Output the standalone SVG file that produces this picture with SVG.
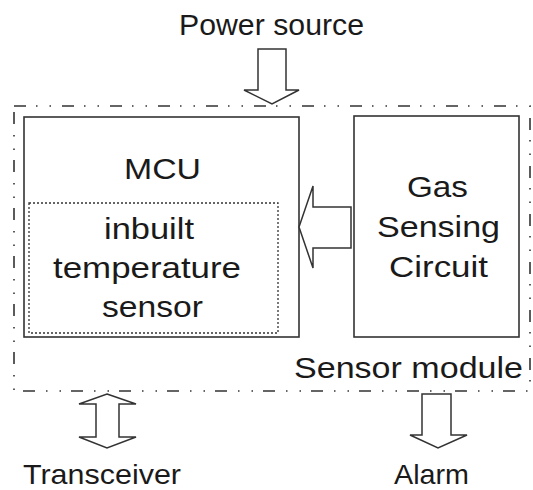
<svg xmlns="http://www.w3.org/2000/svg" width="533" height="490" viewBox="0 0 533 490">
<style>
.t{font-family:"Liberation Sans",Arial,sans-serif;font-size:29px;fill:#1a1a1a;text-anchor:middle}
.b{font-size:28px}
.box{fill:none;stroke:#333;stroke-width:1.6}
.arrow{fill:#fff;stroke:#333;stroke-width:1.5;stroke-linejoin:miter}
.module{fill:none;stroke:#333;stroke-width:1.6;stroke-dasharray:12 10 1.5 12 1.5 11}
.inner{fill:none;stroke:#333;stroke-width:1.3;stroke-dasharray:2 2}
</style>
<rect width="533" height="490" fill="#fff"/>
<g id="sensor-module">
<rect class="module" x="14" y="106" width="516" height="285"/>
<text class="t" x="408.5" y="378" textLength="229" lengthAdjust="spacingAndGlyphs">Sensor module</text>
</g>
<g id="mcu">
<rect class="box" x="24" y="117" width="275" height="220"/>
<text class="t" x="162.5" y="179" textLength="77" lengthAdjust="spacingAndGlyphs">MCU</text>
</g>
<g id="temperature-sensor">
<rect class="inner" x="29" y="203" width="249" height="130"/>
<text class="t" x="149" y="239" textLength="90" lengthAdjust="spacingAndGlyphs">inbuilt</text>
<text class="t" x="147" y="278" textLength="188" lengthAdjust="spacingAndGlyphs">temperature</text>
<text class="t" x="152.5" y="317" textLength="101" lengthAdjust="spacingAndGlyphs">sensor</text>
</g>
<g id="gas-sensing-circuit">
<rect class="box" x="354" y="116" width="165" height="221"/>
<text class="t" x="437.5" y="197" textLength="61" lengthAdjust="spacingAndGlyphs">Gas</text>
<text class="t" x="438.5" y="237" textLength="123" lengthAdjust="spacingAndGlyphs">Sensing</text>
<text class="t" x="438.5" y="277" textLength="99" lengthAdjust="spacingAndGlyphs">Circuit</text>
</g>
<g id="power-source">
<text class="t" x="271.5" y="35" textLength="185" lengthAdjust="spacingAndGlyphs">Power source</text>
</g>
<g id="transceiver">
<text class="t b" x="102" y="484" textLength="158" lengthAdjust="spacingAndGlyphs">Transceiver</text>
</g>
<g id="alarm">
<text class="t b" x="431.5" y="484" textLength="75" lengthAdjust="spacingAndGlyphs">Alarm</text>
</g>
<g id="connectors">
<polygon class="arrow" points="258,49 286,49 286,90 299,90 272,104 244,90 258,90"/>
<polygon class="arrow" points="299,227 313,186 313,207 351,207 351,248 313,248 313,268"/>
<polygon class="arrow" points="107,394 136,404 119,404 119,437 136,437 107,448 79,437 96,437 96,404 79,404"/>
<polygon class="arrow" points="422,394 451,394 451,435 467,435 438,448 410,435 422,435"/>
</g>
</svg>
